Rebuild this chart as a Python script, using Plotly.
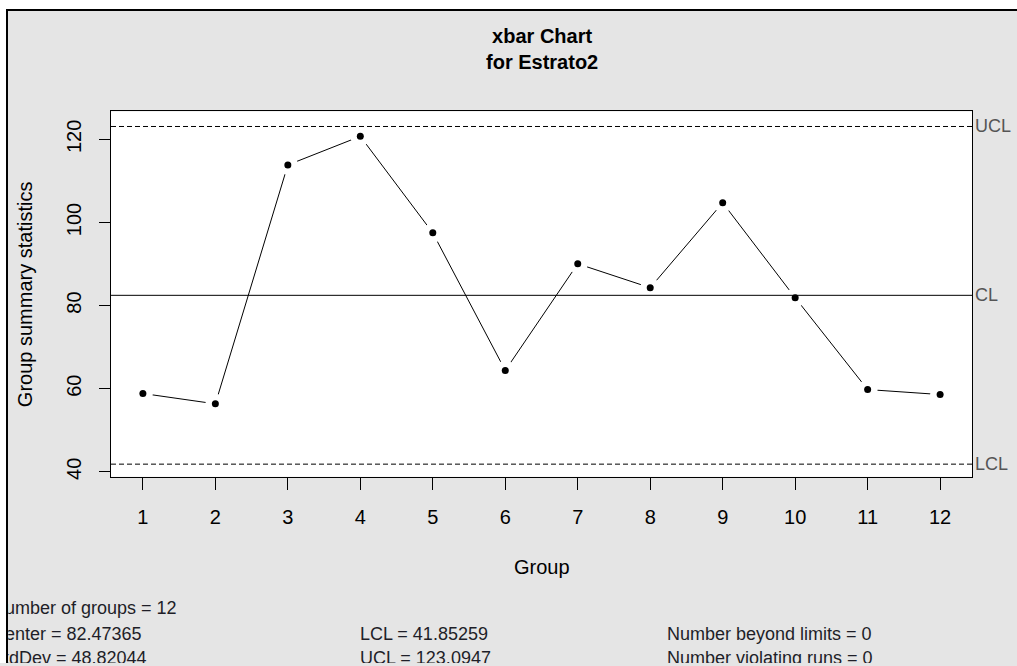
import plotly.graph_objects as go

# ---- data ----
groups = list(range(1, 13))
xbar = [58.85, 56.36, 113.84, 120.72, 97.5, 64.4, 90.06, 84.3, 104.74, 81.9, 59.8, 58.6]
center = 82.47365
std_dev = 48.82044
lcl = 41.85259
ucl = 123.0947
n_groups = 12
n_beyond = 0
n_violating = 0
limit_labels = ["UCL", "CL", "LCL"]
limit_values = [ucl, center, lcl]
x_ticks = groups
y_ticks = [40, 60, 80, 100, 120]

W, H = 1017, 666
FONT = "Arial, 'Liberation Sans', sans-serif"
GRAY_BG = "#e5e5e5"

# plot area in pixels
L, R, T, B = 111, 972, 112, 479
def px(x):
    return x / W
def py(y):
    return (H - y) / H

fig = go.Figure()

# connecting line
fig.add_trace(go.Scatter(x=groups, y=xbar, mode="lines",
                         line=dict(color="black", width=1),
                         showlegend=False, hoverinfo="skip"))
# white gap around points (type="b" look)
fig.add_trace(go.Scatter(x=groups, y=xbar, mode="markers",
                         marker=dict(color="white", size=20, line=dict(width=0)),
                         showlegend=False, hoverinfo="skip"))
# points
fig.add_trace(go.Scatter(x=groups, y=xbar, mode="markers",
                         marker=dict(color="black", size=7, line=dict(width=0)),
                         showlegend=False))

# stats text (clipped at the left border)
stats_left = [f"Number of groups = {n_groups}",
              f"Center = {center}",
              f"StdDev = {std_dev}"]
stats_mid = [f"LCL = {lcl}", f"UCL = {ucl}"]
stats_right = [f"Number beyond limits = {n_beyond}",
               f"Number violating runs = {n_violating}"]
row_y = [612, 638, 662]
col_x = [-8, 360, 667]
tx, ty, tt = [], [], []
for i, s in enumerate(stats_left):
    tx.append(col_x[0]); ty.append(row_y[i]); tt.append(s)
for i, s in enumerate(stats_mid):
    tx.append(col_x[1]); ty.append(row_y[i + 1]); tt.append(s)
for i, s in enumerate(stats_right):
    tx.append(col_x[2]); ty.append(row_y[i + 1]); tt.append(s)
fig.add_trace(go.Scatter(x=tx, y=ty, text=tt, mode="text",
                         textposition="middle right",
                         textfont=dict(family=FONT, size=18, color="#1e1e28"),
                         cliponaxis=True, xaxis="x2", yaxis="y2",
                         showlegend=False, hoverinfo="skip"))

shapes = []
# white outer strips and black border
shapes.append(dict(type="rect", xref="paper", yref="paper", x0=0, x1=1, y0=py(9), y1=1,
                   fillcolor="white", line=dict(width=0), layer="below"))
shapes.append(dict(type="rect", xref="paper", yref="paper", x0=0, x1=px(6), y0=0, y1=1,
                   fillcolor="white", line=dict(width=0), layer="below"))
shapes.append(dict(type="line", xref="paper", yref="paper", x0=px(6), x1=1, y0=py(10), y1=py(10),
                   line=dict(color="black", width=2), layer="below"))
shapes.append(dict(type="line", xref="paper", yref="paper", x0=px(7), x1=px(7), y0=0, y1=py(9),
                   line=dict(color="black", width=2), layer="below"))
# white plot area
shapes.append(dict(type="rect", xref="paper", yref="paper", x0=px(L), x1=px(R), y0=py(B), y1=py(T),
                   fillcolor="white", line=dict(width=0), layer="below"))
# control lines
for lab, val in zip(limit_labels, limit_values):
    shapes.append(dict(type="line", xref="paper", yref="y", x0=px(L), x1=px(R), y0=val, y1=val,
                       line=dict(color="black", width=1,
                                 dash="solid" if lab == "CL" else "5px,3px"),
                       layer="above"))

annotations = []
annotations.append(dict(text="<b>xbar Chart<br>for Estrato2</b>", xref="paper", yref="paper",
                        x=px((L + R) / 2), y=py(49), xanchor="center", yanchor="middle",
                        showarrow=False, font=dict(family=FONT, size=20, color="black")))
annotations.append(dict(text="Group", xref="paper", yref="paper",
                        x=px((L + R) / 2), y=py(570), xanchor="center", yanchor="middle",
                        showarrow=False, font=dict(family=FONT, size=20, color="black")))
annotations.append(dict(text="Group summary statistics", xref="paper", yref="paper",
                        x=px(25), y=py((T + B) / 2), xanchor="center", yanchor="middle",
                        textangle=-90, showarrow=False,
                        font=dict(family=FONT, size=20, color="black")))
for lab, val in zip(limit_labels, limit_values):
    annotations.append(dict(text=lab, xref="paper", yref="y", x=px(R + 1), y=val,
                            xanchor="left", yanchor="middle", showarrow=False,
                            font=dict(family=FONT, size=18, color="#555555")))

fig.update_layout(
    width=W, height=H, autosize=False,
    margin=dict(l=0, r=0, t=0, b=0, pad=0),
    paper_bgcolor=GRAY_BG, plot_bgcolor="rgba(0,0,0,0)",
    showlegend=False,
    shapes=shapes, annotations=annotations,
    xaxis=dict(domain=[px(L), px(R)], range=[0.56, 12.44], tickmode="array",
               tickvals=x_ticks, ticktext=[str(v) for v in x_ticks],
               showgrid=False, zeroline=False, showline=True, mirror=True,
               linecolor="black", linewidth=1.3, ticks="outside", ticklen=12,
               tickwidth=1, tickcolor="black", ticklabelstandoff=10,
               tickfont=dict(family=FONT, size=20, color="black"), anchor="y"),
    yaxis=dict(domain=[py(B), py(T)], range=[38.8, 126.7], tickmode="array",
               tickvals=y_ticks, ticktext=[str(v) for v in y_ticks], tickangle=-90,
               showgrid=False, zeroline=False, showline=True, mirror=True,
               linecolor="black", linewidth=1.3, ticks="outside", ticklen=11,
               tickwidth=1, tickcolor="black", ticklabelstandoff=10,
               tickfont=dict(family=FONT, size=20, color="black"), anchor="x"),
    xaxis2=dict(domain=[px(8.3), 1], range=[8.3, W], visible=False, anchor="y2",
                fixedrange=True),
    yaxis2=dict(domain=[0, py(585)], range=[H, 585], visible=False, anchor="x2",
                fixedrange=True),
)

fig.write_html("out.html", config={"displayModeBar": False},
               post_script="document.body.style.margin='0px';document.body.style.overflow='hidden';")
